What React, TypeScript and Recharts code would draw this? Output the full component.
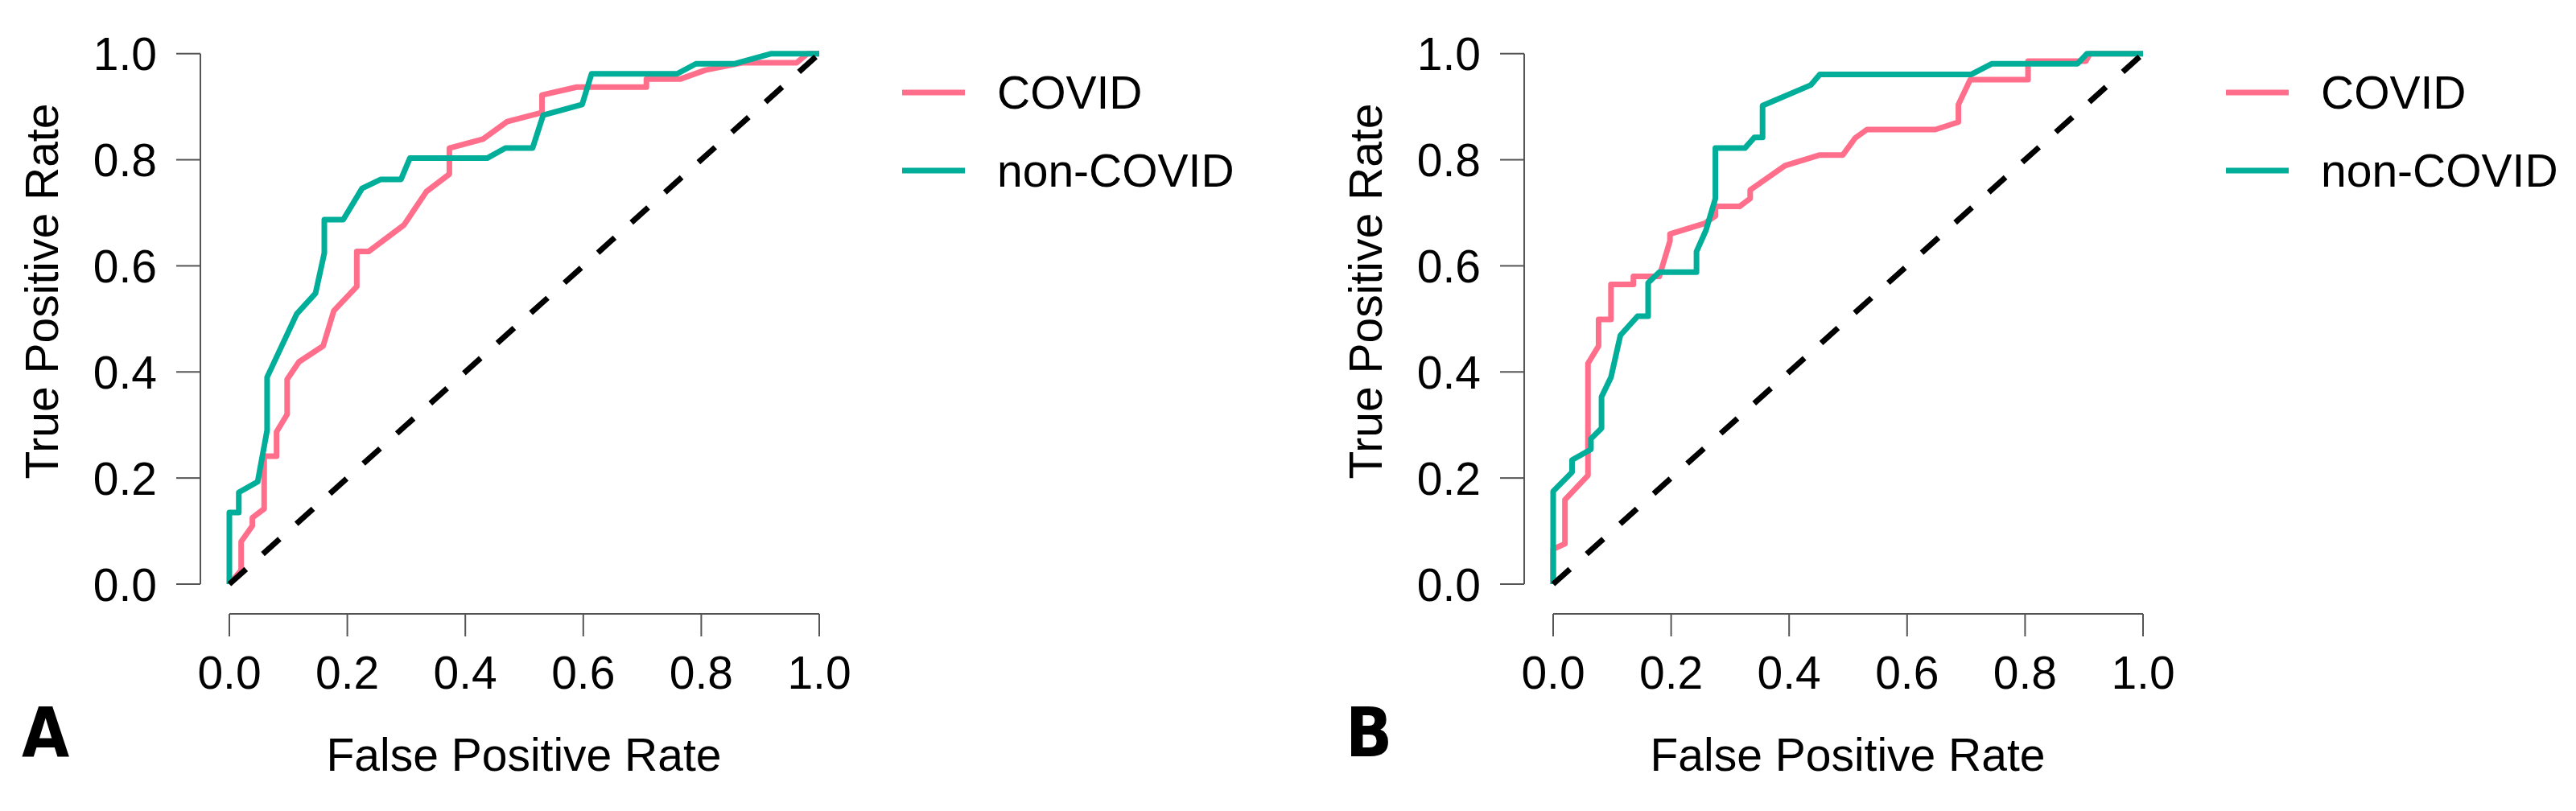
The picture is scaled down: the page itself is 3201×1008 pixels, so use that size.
import React from 'react';
import { LineChart, Line, XAxis, YAxis, ReferenceLine } from 'recharts';

// ---------- data ----------
const seriesNames = ['COVID', 'non-COVID'];
const seriesColors = ['#FF6F8B', '#00AE9A'];
const panelLabels = ['A', 'B'];
const xTicks = [0, 0.2, 0.4, 0.6, 0.8, 1.0];
const yTicks = [0, 0.2, 0.4, 0.6, 0.8, 1.0];
const xAxisTitle = 'False Positive Rate';
const yAxisTitle = 'True Positive Rate';
const chanceLine = [
  { fpr: 0, tpr: 0 },
  { fpr: 1, tpr: 1 },
];

const covidA = [
  { fpr: 0, tpr: 0 }, { fpr: 0.02, tpr: 0.026 }, { fpr: 0.02, tpr: 0.08 },
  { fpr: 0.039, tpr: 0.11 }, { fpr: 0.039, tpr: 0.125 }, { fpr: 0.059, tpr: 0.142 },
  { fpr: 0.059, tpr: 0.241 }, { fpr: 0.08, tpr: 0.241 }, { fpr: 0.08, tpr: 0.287 },
  { fpr: 0.098, tpr: 0.32 }, { fpr: 0.098, tpr: 0.386 }, { fpr: 0.118, tpr: 0.419 },
  { fpr: 0.159, tpr: 0.449 }, { fpr: 0.177, tpr: 0.515 }, { fpr: 0.216, tpr: 0.561 },
  { fpr: 0.216, tpr: 0.627 }, { fpr: 0.236, tpr: 0.627 }, { fpr: 0.296, tpr: 0.677 },
  { fpr: 0.334, tpr: 0.74 }, { fpr: 0.373, tpr: 0.773 }, { fpr: 0.373, tpr: 0.822 },
  { fpr: 0.43, tpr: 0.839 }, { fpr: 0.471, tpr: 0.872 }, { fpr: 0.53, tpr: 0.889 },
  { fpr: 0.53, tpr: 0.922 }, { fpr: 0.589, tpr: 0.937 }, { fpr: 0.707, tpr: 0.937 },
  { fpr: 0.707, tpr: 0.952 }, { fpr: 0.764, tpr: 0.952 }, { fpr: 0.807, tpr: 0.969 },
  { fpr: 0.871, tpr: 0.983 }, { fpr: 0.962, tpr: 0.983 }, { fpr: 0.98, tpr: 1.0 },
  { fpr: 1, tpr: 1 },
];

const nonCovidA = [
  { fpr: 0, tpr: 0 }, { fpr: 0, tpr: 0.135 }, { fpr: 0.016, tpr: 0.135 },
  { fpr: 0.016, tpr: 0.173 }, { fpr: 0.048, tpr: 0.193 }, { fpr: 0.064, tpr: 0.29 },
  { fpr: 0.064, tpr: 0.39 }, { fpr: 0.114, tpr: 0.509 }, { fpr: 0.146, tpr: 0.548 },
  { fpr: 0.161, tpr: 0.624 }, { fpr: 0.161, tpr: 0.687 }, { fpr: 0.193, tpr: 0.687 },
  { fpr: 0.225, tpr: 0.746 }, { fpr: 0.257, tpr: 0.763 }, { fpr: 0.291, tpr: 0.763 },
  { fpr: 0.306, tpr: 0.803 }, { fpr: 0.437, tpr: 0.803 }, { fpr: 0.468, tpr: 0.822 },
  { fpr: 0.514, tpr: 0.822 }, { fpr: 0.532, tpr: 0.884 }, { fpr: 0.598, tpr: 0.904 },
  { fpr: 0.614, tpr: 0.962 }, { fpr: 0.759, tpr: 0.962 }, { fpr: 0.791, tpr: 0.981 },
  { fpr: 0.857, tpr: 0.981 }, { fpr: 0.919, tpr: 1.0 }, { fpr: 1, tpr: 1 },
];

const covidB = [
  { fpr: 0, tpr: 0 }, { fpr: 0, tpr: 0.066 }, { fpr: 0.02, tpr: 0.076 },
  { fpr: 0.02, tpr: 0.159 }, { fpr: 0.059, tpr: 0.205 }, { fpr: 0.059, tpr: 0.416 },
  { fpr: 0.077, tpr: 0.449 }, { fpr: 0.077, tpr: 0.499 }, { fpr: 0.098, tpr: 0.499 },
  { fpr: 0.098, tpr: 0.565 }, { fpr: 0.136, tpr: 0.565 }, { fpr: 0.136, tpr: 0.58 },
  { fpr: 0.18, tpr: 0.58 }, { fpr: 0.198, tpr: 0.647 }, { fpr: 0.198, tpr: 0.66 },
  { fpr: 0.257, tpr: 0.68 }, { fpr: 0.275, tpr: 0.694 }, { fpr: 0.275, tpr: 0.712 },
  { fpr: 0.316, tpr: 0.712 }, { fpr: 0.334, tpr: 0.727 }, { fpr: 0.334, tpr: 0.743 },
  { fpr: 0.393, tpr: 0.789 }, { fpr: 0.452, tpr: 0.809 }, { fpr: 0.491, tpr: 0.809 },
  { fpr: 0.512, tpr: 0.841 }, { fpr: 0.532, tpr: 0.857 }, { fpr: 0.648, tpr: 0.857 },
  { fpr: 0.687, tpr: 0.871 }, { fpr: 0.687, tpr: 0.904 }, { fpr: 0.707, tpr: 0.951 },
  { fpr: 0.805, tpr: 0.951 }, { fpr: 0.805, tpr: 0.986 }, { fpr: 0.903, tpr: 0.986 },
  { fpr: 0.91, tpr: 1.0 }, { fpr: 1, tpr: 1 },
];

const nonCovidB = [
  { fpr: 0, tpr: 0 }, { fpr: 0, tpr: 0.175 }, { fpr: 0.032, tpr: 0.211 },
  { fpr: 0.032, tpr: 0.234 }, { fpr: 0.064, tpr: 0.254 }, { fpr: 0.064, tpr: 0.274 },
  { fpr: 0.082, tpr: 0.294 }, { fpr: 0.082, tpr: 0.353 }, { fpr: 0.098, tpr: 0.39 },
  { fpr: 0.114, tpr: 0.469 }, { fpr: 0.143, tpr: 0.505 }, { fpr: 0.161, tpr: 0.505 },
  { fpr: 0.161, tpr: 0.568 }, { fpr: 0.18, tpr: 0.588 }, { fpr: 0.243, tpr: 0.588 },
  { fpr: 0.243, tpr: 0.627 }, { fpr: 0.259, tpr: 0.667 }, { fpr: 0.275, tpr: 0.727 },
  { fpr: 0.275, tpr: 0.822 }, { fpr: 0.325, tpr: 0.822 }, { fpr: 0.341, tpr: 0.842 },
  { fpr: 0.355, tpr: 0.842 }, { fpr: 0.355, tpr: 0.902 }, { fpr: 0.437, tpr: 0.941 },
  { fpr: 0.452, tpr: 0.961 }, { fpr: 0.709, tpr: 0.961 }, { fpr: 0.744, tpr: 0.981 },
  { fpr: 0.889, tpr: 0.981 }, { fpr: 0.905, tpr: 1.0 }, { fpr: 1, tpr: 1 },
];

const panelSeries = [
  [covidA, nonCovidA],
  [covidB, nonCovidB],
];

// ---------- style ----------
const FONT = "'Liberation Sans', Arial, Helvetica, sans-serif";
const LETTER_FONT = "'Liberation Sans Narrow', 'DejaVu Sans Condensed', 'Arial Narrow', sans-serif";
const AXIS = '#555555';
const FS = 57;
const CHART_W = 1556;
const CHART_H = 1008;
const PANEL_OFFSET = 1645;
const MARGIN = { top: 66.7, right: 538, bottom: 245, left: 249 };

const XTick = (props: any) => {
  const { x, payload } = props;
  return (
    <g>
      <line x1={x} x2={x} y1={763} y2={791} stroke={AXIS} strokeWidth={2} />
      <text x={x} y={856} textAnchor="middle" fontSize={FS} fontFamily={FONT} fill="#000">
        {Number(payload.value).toFixed(1)}
      </text>
    </g>
  );
};

const YTick = (props: any) => {
  const { y, payload } = props;
  return (
    <g>
      <line x1={219} x2={249} y1={y} y2={y} stroke={AXIS} strokeWidth={2} />
      <text x={195} y={y + 20.5} textAnchor="end" fontSize={FS} fontFamily={FONT} fill="#000">
        {Number(payload.value).toFixed(1)}
      </text>
    </g>
  );
};

const Panel = ({ index }: { index: number }) => {
  const [covid, nonCovid] = panelSeries[index];
  return (
    <div style={{ position: 'absolute', left: index * PANEL_OFFSET, top: 0, width: CHART_W, height: CHART_H }}>
      <LineChart width={CHART_W} height={CHART_H} margin={MARGIN}>
        <XAxis
          type="number"
          dataKey="fpr"
          domain={[0, 1]}
          ticks={xTicks}
          interval={0}
          height={37}
          axisLine={false}
          tickLine={false}
          tick={XTick}
        />
        <YAxis
          type="number"
          dataKey="tpr"
          domain={[0, 1]}
          ticks={yTicks}
          interval={0}
          width={36}
          axisLine={false}
          tickLine={false}
          tick={YTick}
        />
        <ReferenceLine
          segment={[{ x: -0.0491, y: 0 }, { x: -0.0491, y: 1 }]}
          ifOverflow="visible"
          stroke={AXIS}
          strokeWidth={2}
        />
        <ReferenceLine
          segment={[{ x: 0, y: -0.0561 }, { x: 1, y: -0.0561 }]}
          ifOverflow="visible"
          stroke={AXIS}
          strokeWidth={2}
        />
        <Line
          data={covid}
          dataKey="tpr"
          name={seriesNames[0]}
          type="linear"
          stroke={seriesColors[0]}
          strokeWidth={7}
          strokeLinejoin="round"
          dot={false}
          activeDot={false}
          isAnimationActive={false}
        />
        <Line
          data={nonCovid}
          dataKey="tpr"
          name={seriesNames[1]}
          type="linear"
          stroke={seriesColors[1]}
          strokeWidth={7}
          strokeLinejoin="round"
          dot={false}
          activeDot={false}
          isAnimationActive={false}
        />
        <Line
          data={chanceLine}
          dataKey="tpr"
          name="chance"
          legendType="none"
          type="linear"
          stroke="#000"
          strokeWidth={7}
          strokeDasharray="28 28"
          dot={false}
          activeDot={false}
          isAnimationActive={false}
        />
      </LineChart>
      <svg
        width={CHART_W}
        height={CHART_H}
        style={{ position: 'absolute', left: 0, top: 0, pointerEvents: 'none' }}
      >
        <text x={651} y={958} textAnchor="middle" fontSize={FS} fontFamily={FONT} fill="#000">
          {xAxisTitle}
        </text>
        <text
          x={72}
          y={362}
          transform="rotate(-90, 72, 362)"
          textAnchor="middle"
          fontSize={FS}
          fontFamily={FONT}
          fill="#000"
        >
          {yAxisTitle}
        </text>
        <text x={27} y={940} fontSize={85} fontWeight="bold" fontFamily={LETTER_FONT} fill="#000">
          {panelLabels[index]}
        </text>
        {seriesNames.map((name, i) => (
          <g key={name}>
            <line x1={1121} x2={1199} y1={115 + 97 * i} y2={115 + 97 * i} stroke={seriesColors[i]} strokeWidth={7} />
            <text x={1239} y={135 + 97 * i} fontSize={FS} fontFamily={FONT} fill="#000">
              {name}
            </text>
          </g>
        ))}
      </svg>
    </div>
  );
};

export default function App() {
  return (
    <div
      style={{
        position: 'absolute',
        left: 0,
        top: 0,
        width: 3201,
        height: 1008,
        overflow: 'hidden',
        background: '#fff',
      }}
    >
      {panelLabels.map((_, i) => (
        <Panel key={i} index={i} />
      ))}
    </div>
  );
}
